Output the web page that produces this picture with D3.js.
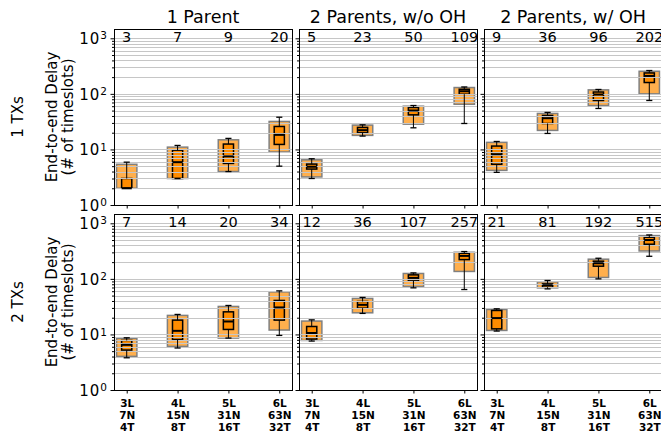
<!DOCTYPE html>
<html lang="en">
<head>
<meta charset="UTF-8">
<title>End-to-end Delay box plots</title>
<script src="https://cdn.jsdelivr.net/npm/d3@7/dist/d3.min.js"></script>
<style>
  body { margin: 0; background: #fff; }
  #chart text { font-family: "DejaVu Sans", sans-serif; fill: #000; }
  .grid line { stroke: #c6c6c6; stroke-width: 1; shape-rendering: crispEdges; }
  .axis line { stroke: #000; }
</style>
</head>
<body>
<div id="chart"></div>
<script>
// titles and categories
var panelTitles = ["1 Parent", "2 Parents, w/o OH", "2 Parents, w/ OH"];
var rowTitles = ["1 TXs", "2 TXs"];
var categories = [1, 2, 3, 4];
var catLabels = [["3L", "7N", "4T"], ["4L", "15N", "8T"], ["5L", "31N", "16T"], ["6L", "63N", "32T"]];
var majorTicks = [1, 10, 100, 1000];

// all arrays below are [row][panel][category]
var counts = [
  [[3, 7, 9, 20], [5, 23, 50, 109], [9, 36, 96, 202]],
  [[7, 14, 20, 34], [12, 36, 107, 257], [21, 81, 192, 515]]
];
// wide light box (range)
var lightLo = [
  [[2, 3, 4, 9], [3.2, 17.9, 28.5, 65], [4.2, 22, 61.7, 100]],
  [[4.03, 6.1, 8.6, 12], [7.8, 24.5, 72.8, 136], [11.8, 68.9, 106, 318]]
];
var lightHi = [
  [[5.4, 11, 14.9, 31.9], [6.5, 27.4, 60, 130], [13.4, 44.4, 118, 255]],
  [[8.48, 22, 31.9, 58.3], [17.4, 44.4, 125, 301], [28.1, 88.3, 226, 601]]
];
// box plot stats
var whiskLo = [
  [[2, 3, 4, 5], [3, 17.4, 24.5, 29.3], [3.87, 19.4, 54.6, 76]],
  [[3.8, 5.7, 8.6, 9.6], [7.6, 23.9, 68.9, 64.3], [11.5, 66, 100, 255]]
];
var q1 = [
  [[2, 3, 5.6, 12.3], [4.43, 19.9, 41.9, 98.6], [5.4, 29.3, 76, 160]],
  [[5.23, 8.1, 12.3, 18.1], [8.25, 29.7, 92, 222], [12.6, 70.8, 169, 420]]
];
var med = [
  [[2, 5.9, 7.5, 18.3], [4.88, 22.2, 50.2, 111.6], [8.2, 36.5, 97.3, 210]],
  [[6.5, 11.6, 17.1, 30.6], [10.6, 34.1, 104, 259], [19.7, 76.9, 191, 501]]
];
var q3 = [
  [[3, 9.7, 12.5, 25.9], [5.45, 24.9, 56.9, 121], [11.5, 40.9, 108, 238]],
  [[7.8, 18.1, 25.5, 40.9], [13.9, 39.2, 118, 289], [27, 81.2, 208, 560]]
];
var whiskHi = [
  [[5.9, 11.8, 15.8, 38], [6.8, 27.7, 61.7, 133], [13.9, 46.3, 120, 263]],
  [[8.7, 22.9, 33.2, 60.8], [18.3, 46.3, 128, 310], [28.9, 93.4, 235, 617]]
];

var svg = d3.select("#chart").append("svg").attr("width", 661).attr("height", 438);

var W = 178, H = 176;
var panelLeft = [114, 299, 484];
var rowTop = [29, 214];

var x = d3.scaleLinear().domain([0.75, 4.25]).range([0, W]);
var y = d3.scaleLog().domain([1, 1470]).range([H, 0]);

// minor ticks 2..9 per decade
var minorTicks = [];
majorTicks.forEach(function(m) {
  for (var k = 2; k <= 9; k++) { if (k * m <= 1470) minorTicks.push(k * m); }
});
var gridVals = majorTicks.concat(minorTicks);

var lightW = x(0.4) - x(0), darkW = x(0.2) - x(0), capW = x(0.12) - x(0);

rowTop.forEach(function(top, r) {
  panelLeft.forEach(function(left, p) {
    var g = svg.append("g").attr("transform", "translate(" + left + "," + top + ")");

    // light boxes
    g.selectAll(".light").data(categories).enter().append("rect")
      .attr("x", function(c) { return x(c) - lightW / 2; })
      .attr("y", function(c, i) { return y(lightHi[r][p][i]); })
      .attr("width", lightW)
      .attr("height", function(c, i) { return y(lightLo[r][p][i]) - y(lightHi[r][p][i]); })
      .attr("fill", "#ffaf4d").attr("stroke", "#808080").attr("stroke-width", 1.5);

    // dark boxes (q1..q3)
    g.selectAll(".box").data(categories).enter().append("rect")
      .attr("x", function(c) { return x(c) - darkW / 2; })
      .attr("y", function(c, i) { return y(q3[r][p][i]); })
      .attr("width", darkW)
      .attr("height", function(c, i) { return Math.max(0, y(q1[r][p][i]) - y(q3[r][p][i])); })
      .attr("fill", "#ff8c00").attr("stroke", "#000").attr("stroke-width", 1.5);

    // gridlines above patches
    g.append("g").attr("class", "grid").selectAll("line").data(gridVals).enter().append("line")
      .attr("x1", 0).attr("x2", W)
      .attr("y1", function(d) { return Math.round(y(d)) + 0.5; })
      .attr("y2", function(d) { return Math.round(y(d)) + 0.5; });

    // whiskers
    g.selectAll(".wlo").data(categories).enter().append("line")
      .attr("x1", function(c) { return x(c); }).attr("x2", function(c) { return x(c); })
      .attr("y1", function(c, i) { return y(whiskLo[r][p][i]); })
      .attr("y2", function(c, i) { return y(q1[r][p][i]); })
      .attr("stroke", "#000").attr("stroke-width", 1);
    g.selectAll(".whi").data(categories).enter().append("line")
      .attr("x1", function(c) { return x(c); }).attr("x2", function(c) { return x(c); })
      .attr("y1", function(c, i) { return y(whiskHi[r][p][i]); })
      .attr("y2", function(c, i) { return y(q3[r][p][i]); })
      .attr("stroke", "#000").attr("stroke-width", 1);
    [whiskLo, whiskHi].forEach(function(arr) {
      g.selectAll(".cap").data(categories).enter().append("line")
        .attr("x1", function(c) { return x(c) - capW / 2; })
        .attr("x2", function(c) { return x(c) + capW / 2; })
        .attr("y1", function(c, i) { return y(arr[r][p][i]); })
        .attr("y2", function(c, i) { return y(arr[r][p][i]); })
        .attr("stroke", "#000").attr("stroke-width", 1.3);
    });
    // medians
    g.selectAll(".med").data(categories).enter().append("line")
      .attr("x1", function(c) { return x(c) - darkW / 2; })
      .attr("x2", function(c) { return x(c) + darkW / 2; })
      .attr("y1", function(c, i) { return y(med[r][p][i]); })
      .attr("y2", function(c, i) { return y(med[r][p][i]); })
      .attr("stroke", "#000").attr("stroke-width", 2);

    // counts on top
    g.selectAll(".count").data(categories).enter().append("text")
      .attr("x", function(c) { return x(c); })
      .attr("y", y(1000) + 3.5)
      .attr("text-anchor", "middle")
      .style("font-size", "14.5px")
      .text(function(c, i) { return counts[r][p][i]; });

    // y axis: major + minor ticks
    var yMinor = g.append("g").attr("class", "axis")
      .call(d3.axisLeft(y).tickValues(minorTicks).tickSize(2).tickFormat(""));
    yMinor.select(".domain").remove();
    var yMajor = g.append("g").attr("class", "axis")
      .call(d3.axisLeft(y).tickValues(majorTicks).tickSize(3.5).tickPadding(3.5));
    yMajor.select(".domain").remove();
    yMajor.selectAll(".tick text").each(function(d) {
      var t = d3.select(this).text(null).style("font-size", "15px").attr("dy", "0.36em");
      if (p != 0) { t.remove(); return; }
      t.append("tspan").attr("letter-spacing", "1px").text("10");
      t.append("tspan").attr("dy", "-0.45em").style("font-size", "10.5px")
        .text(Math.round(Math.log10(d)));
    });

    // x axis
    var xAx = g.append("g").attr("class", "axis")
      .attr("transform", "translate(0," + H + ")")
      .call(d3.axisBottom(x).tickValues(categories).tickSize(3.5).tickFormat(""));
    xAx.select(".domain").remove();
    if (r == 1) {
      xAx.selectAll(".tick text").each(function(c, i) {
        var t = d3.select(this).attr("y", 0).attr("dy", null)
          .style("font-size", "10.5px").style("font-weight", "bold");
        catLabels[i].forEach(function(line, k) {
          t.append("tspan").attr("x", 0).attr("y", 17 + k * 12).text(line);
        });
      });
    }

    // frame
    g.append("rect").attr("width", W).attr("height", H)
      .attr("fill", "none").attr("stroke", "#000").attr("stroke-width", 1)
      .attr("shape-rendering", "crispEdges");

    if (r == 0) {
      svg.append("text")
        .attr("x", left + W / 2).attr("y", 22.5)
        .attr("text-anchor", "middle").style("font-size", "17.5px")
        .text(panelTitles[p]);
    }
  });

  var cy = top + H / 2;
  svg.append("text")
    .attr("transform", "translate(22.5," + cy + ") rotate(-90)")
    .attr("text-anchor", "middle").style("font-size", "15px")
    .text(rowTitles[r]);
  svg.append("text")
    .attr("transform", "translate(57," + cy + ") rotate(-90)")
    .attr("text-anchor", "middle").style("font-size", "15px")
    .text("End-to-end Delay");
  svg.append("text")
    .attr("transform", "translate(72.5," + cy + ") rotate(-90)")
    .attr("text-anchor", "middle").style("font-size", "15px")
    .text("(# of timeslots)");
});
</script>
</body>
</html>
